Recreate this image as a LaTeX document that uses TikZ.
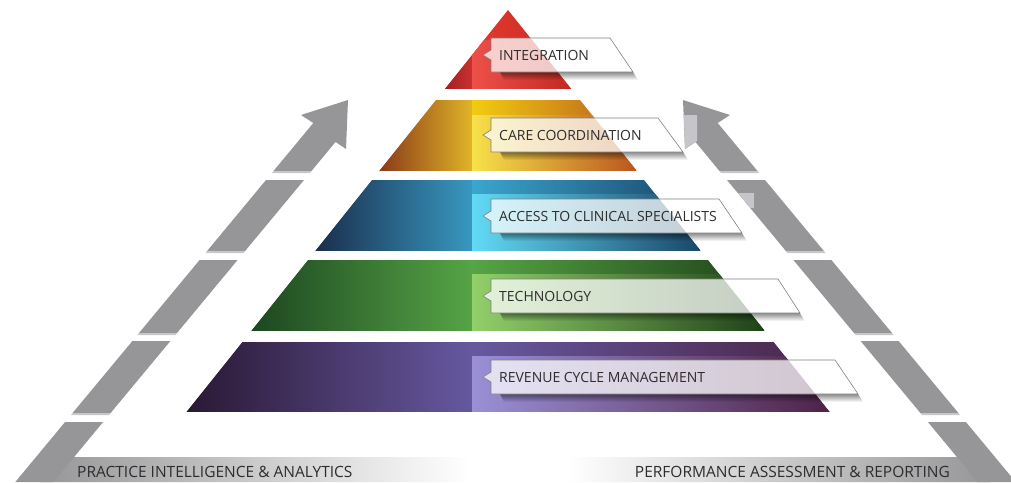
\documentclass[tikz,border=0pt]{standalone}
\usepackage{fontspec}
\setmainfont{Open Sans}
\usetikzlibrary{fadings}
\definecolor{band}{RGB}{150,150,152}
\definecolor{facet}{RGB}{198,198,202}
\definecolor{txt}{RGB}{45,45,45}
% red
\definecolor{rA}{HTML}{A41E1E}\definecolor{rB}{HTML}{C83232}
\definecolor{rC}{HTML}{E23A30}\definecolor{rD}{HTML}{C82820}
\definecolor{rE}{HTML}{EE5048}\definecolor{rF}{HTML}{E8453C}\definecolor{rG}{HTML}{C02A22}
% yellow
\definecolor{yA}{HTML}{8A3A18}\definecolor{yB}{HTML}{C08A28}\definecolor{yC}{HTML}{E0B428}
\definecolor{yD}{HTML}{F2CC10}\definecolor{yE}{HTML}{E6B010}\definecolor{yF}{HTML}{B85A1E}
\definecolor{yG}{HTML}{F8E24A}\definecolor{yH}{HTML}{FFE000}\definecolor{yI}{HTML}{B8561E}
% blue
\definecolor{bA}{HTML}{1A2E4C}\definecolor{bB}{HTML}{2A6088}\definecolor{bC}{HTML}{3898C0}
\definecolor{bD}{HTML}{3AA6CE}\definecolor{bE}{HTML}{2C7AA6}\definecolor{bF}{HTML}{1A4468}
\definecolor{bG}{HTML}{62DAF6}\definecolor{bH}{HTML}{3AAED8}\definecolor{bI}{HTML}{1A4668}
% green
\definecolor{gA}{HTML}{1C4620}\definecolor{gB}{HTML}{347A34}\definecolor{gC}{HTML}{56A446}
\definecolor{gD}{HTML}{56A446}\definecolor{gE}{HTML}{3A7A2E}\definecolor{gF}{HTML}{1E4218}
\definecolor{gG}{HTML}{92D06A}\definecolor{gH}{HTML}{5AA044}\definecolor{gI}{HTML}{1E4218}
% purple
\definecolor{pA}{HTML}{2A1834}\definecolor{pB}{HTML}{443462}\definecolor{pC}{HTML}{6658A0}
\definecolor{pD}{HTML}{6658A0}\definecolor{pE}{HTML}{56447E}\definecolor{pF}{HTML}{4A2446}
\definecolor{pG}{HTML}{9A90D6}\definecolor{pH}{HTML}{7A68B0}\definecolor{pI}{HTML}{4E2248}

\newcommand{\mycallout}[4]{% yt yb xrt xrb
  \fill[black,opacity=0.45,path fading=south] (500,#2) -- (#4,#2) -- ({#4+5},{#2+8}) -- (504,{#2+8}) -- cycle;
  \path[callout] (491,#1) -- (#3,#1) -- (#4,#2) -- (491,#2) -- ({491},{(#1+#2)/2+5}) -- ({483},{(#1+#2)/2}) -- ({491},{(#1+#2)/2-5}) -- cycle;
}

\begin{document}
\begin{tikzpicture}[x=1pt,y=-1pt,
  callout/.style={fill=white, fill opacity=0.74, draw=black!50, line width=0.6pt},
  lbl/.style={font=\fontsize{14}{16}\selectfont, text=txt, inner sep=0pt, anchor=base west},
  foot/.style={font=\fontsize{15.5}{17}\selectfont, text=txt, inner sep=0pt},
  gapline/.style={left color=white, middle color=black!28, right color=white}]
\useasboundingbox (0,0) rectangle (1011,482);

% ---------- grey frame, left side ----------
\shade[left color=band, right color=white] (60,457) -- (470,457) -- (470,482) -- (40,482) -- cycle;
\fill[band] (273.5,171) -- (313.3,123) -- (301,115) -- (348,100) -- (346,149) -- (335.5,142) -- (311.5,171) -- cycle;
\fill[band] (266,180) -- (304,180) -- (245.1,251) -- (207.1,251) -- cycle;
\fill[band] (199.6,260) -- (237.6,260) -- (177,333) -- (139,333) -- cycle;
\fill[band] (132.4,341) -- (170.4,341) -- (110.6,413) -- (72.6,413) -- cycle;
\fill[band] (65.1,422) -- (103.1,422) -- (74.1,457) -- (53.3,482) -- (15.3,482) -- cycle;
\fill[black!22] (273.5,171) -- (311.5,171) -- (310,173) -- (272,173) -- cycle;
\fill[black!22] (207.1,251) -- (245.1,251) -- (243.6,253) -- (205.6,253) -- cycle;
\fill[black!22] (139,333) -- (177,333) -- (175.5,335) -- (137.5,335) -- cycle;
\fill[black!22] (72.6,413) -- (110.6,413) -- (109.1,415) -- (71.1,415) -- cycle;

% ---------- grey frame, right side ----------
\shade[left color=white, right color=band] (567,457) -- (970,457) -- (990,482) -- (567,482) -- cycle;
\fill[band] (757.5,171) -- (717.7,123) -- (730,115) -- (683,100) -- (685,149) -- (695.5,142) -- (719.5,171) -- cycle;
\fill[band] (765,180) -- (727,180) -- (785.9,251) -- (823.9,251) -- cycle;
\fill[band] (831.4,260) -- (793.4,260) -- (854,333) -- (892,333) -- cycle;
\fill[band] (898.6,341) -- (860.6,341) -- (920.4,413) -- (958.4,413) -- cycle;
\fill[band] (965.9,422) -- (927.9,422) -- (956.9,457) -- (977.7,482) -- (1015.7,482) -- cycle;
\fill[black!22] (757.5,171) -- (719.5,171) -- (721,173) -- (759,173) -- cycle;
\fill[black!22] (823.9,251) -- (785.9,251) -- (787.4,253) -- (825.4,253) -- cycle;
\fill[black!22] (892,333) -- (854,333) -- (855.5,335) -- (893.5,335) -- cycle;
\fill[black!22] (958.4,413) -- (920.4,413) -- (921.9,415) -- (959.9,415) -- cycle;
\fill[facet] (683.8,115) -- (697,115) -- (697,141) -- (695.5,142) -- (685,149) -- cycle;
\begin{scope}
  \clip (765,180) -- (727,180) -- (785.9,251) -- (823.9,251) -- cycle;
  \fill[facet] (738,193) rectangle (754,208);
\end{scope}

% ---------- pyramid layers ----------
% layer 1 red
\begin{scope}
  \clip (508,10) -- (571.2,89) -- (444.8,89) -- cycle;
  \shade[left color=rA, right color=rB] (444.8,10) rectangle (472,89);
  \shade[left color=rC, right color=rD] (472,10) rectangle (571.2,89);
  \shade[left color=rE, middle color=rF, right color=rG] (472,40) rectangle (571.2,89);
\end{scope}
\shade[gapline] (410,89) rectangle (606,92);
% layer 2 yellow
\begin{scope}
  \clip (436,100) -- (580,100) -- (636.8,171) -- (379.2,171) -- cycle;
  \shade[left color=yA, middle color=yB, right color=yC] (379.2,100) rectangle (472,171);
  \shade[left color=yD, middle color=yE, right color=yF] (472,100) rectangle (636.8,171);
  \shade[left color=yG, middle color=yH, right color=yI] (472,115) rectangle (636.8,171);
\end{scope}
\shade[gapline] (344,171) rectangle (672,174);
% layer 3 blue
\begin{scope}
  \clip (372,180) -- (644,180) -- (700.8,251) -- (315.2,251) -- cycle;
  \shade[left color=bA, middle color=bB, right color=bC] (315.2,180) rectangle (472,251);
  \shade[left color=bD, middle color=bE, right color=bF] (472,180) rectangle (700.8,251);
  \shade[left color=bG, middle color=bH, right color=bI] (472,194) rectangle (700.8,251);
\end{scope}
\shade[gapline] (280,251) rectangle (736,254);
% layer 4 green
\begin{scope}
  \clip (308,260) -- (708,260) -- (764.8,331) -- (251.2,331) -- cycle;
  \shade[left color=gA, middle color=gB, right color=gC] (251.2,260) rectangle (472,331);
  \shade[left color=gD, middle color=gE, right color=gF] (472,260) rectangle (764.8,331);
  \shade[left color=gG, middle color=gH, right color=gI] (472,274) rectangle (764.8,331);
\end{scope}
\shade[gapline] (216,331) rectangle (800,334);
% layer 5 purple
\begin{scope}
  \clip (242.4,342) -- (773.6,342) -- (829.6,412) -- (186.4,412) -- cycle;
  \shade[left color=pA, middle color=pB, right color=pC] (186.4,342) rectangle (472,412);
  \shade[left color=pD, middle color=pE, right color=pF] (472,342) rectangle (829.6,412);
  \shade[left color=pG, middle color=pH, right color=pI] (472,356) rectangle (829.6,412);
\end{scope}
\shade[gapline] (150,412) rectangle (866,415);

% ---------- callouts ----------
\mycallout{38}{72}{610}{633}
\mycallout{118}{152}{658}{683}
\mycallout{199}{233}{719}{742}
\mycallout{279}{313}{778}{800}
\mycallout{360}{394}{835}{858}

\node[lbl] (l1) at (499,60) {INTEGRATION};
\node[lbl] (l2) at (499,140) {CARE COORDINATION};
\node[lbl] (l3) at (499,221) {ACCESS TO CLINICAL SPECIALISTS};
\node[lbl] (l4) at (499,301) {TECHNOLOGY};
\node[lbl] (l5) at (499,382) {REVENUE CYCLE MANAGEMENT};

\node[foot, anchor=base west] (fl) at (77,477) {PRACTICE INTELLIGENCE \& ANALYTICS};
\node[foot, anchor=base east] (fr) at (950,477) {PERFORMANCE ASSESSMENT \& REPORTING};
\end{tikzpicture}
\end{document}
